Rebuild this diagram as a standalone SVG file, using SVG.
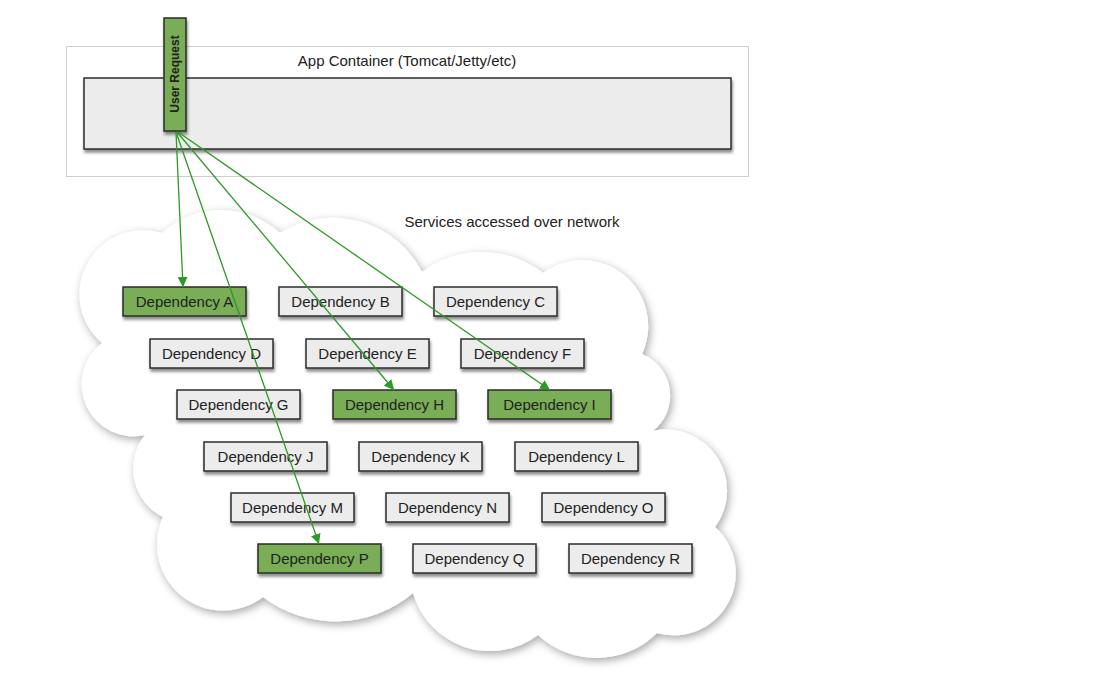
<svg xmlns="http://www.w3.org/2000/svg" width="1105" height="681" viewBox="0 0 1105 681">
<defs>
<filter id="sh" x="-20%" y="-30%" width="140%" height="170%">
<feDropShadow dx="1" dy="3" stdDeviation="1.6" flood-color="#000" flood-opacity="0.45"/>
</filter>
<filter id="csh" x="-10%" y="-10%" width="120%" height="125%">
<feDropShadow dx="2" dy="3" stdDeviation="4" flood-color="#000" flood-opacity="0.35"/>
</filter>
<marker id="ah" viewBox="0 0 10 10" refX="10" refY="5" markerWidth="10" markerHeight="10" markerUnits="userSpaceOnUse" orient="auto">
<path d="M0,0 L10,5 L0,10 z" fill="#2e9a26"/>
</marker>
<style>
.box{stroke:#2b2b2b;stroke-width:1.5;filter:url(#sh)}
.g{fill:#79ad57}
.w{fill:#ececec}
.t{font-family:"Liberation Sans",Arial,sans-serif;font-size:15px;fill:#222;text-anchor:middle;dominant-baseline:central}
.lbl{font-family:"Liberation Sans",Arial,sans-serif;font-size:15px;fill:#222;text-anchor:middle}
.c{stroke:#2e9a26;stroke-width:1.3;fill:none;marker-end:url(#ah)}
</style>
</defs>
<rect width="1105" height="681" fill="#fff"/>
<g id="app-container">
<rect x="66.5" y="46.5" width="682" height="130" fill="#fff" stroke="#cfcfcf" stroke-width="1"/>
<text class="lbl" x="407" y="66">App Container (Tomcat/Jetty/etc)</text>
<rect x="84" y="78" width="647" height="71" fill="#ececec" stroke="#2b2b2b" stroke-width="1.5" filter="url(#sh)"/>
</g>
<g id="cloud">
<path d="M162,233 A87,87 0 0 1 280,233 A100,100 0 0 1 422,272 A100,100 0 0 1 543,273 A66,66 0 0 1 642,354 A45,45 0 0 1 653,431 A61,61 0 0 1 715,527 A62,62 0 0 1 657,633 A86,86 0 0 1 538,635 A80,80 0 0 1 413,593 A120,120 0 0 1 263,597 A66,66 0 0 1 163,517 A54,54 0 0 1 145,435 A52,52 0 0 1 102,343 A64,64 0 0 1 162,233 Z" fill="#fff" filter="url(#csh)"/>
<text class="lbl" x="512" y="227">Services accessed over network</text>
</g>
<g id="user-request">
<rect class="box g" x="164" y="18" width="22" height="113"/>
<text x="175" y="74" transform="rotate(-90 175 74)" font-family="'Liberation Sans',Arial,sans-serif" font-size="12" font-weight="bold" fill="#222" text-anchor="middle" dominant-baseline="central">User Request</text>
</g>
<g id="dep-a"><rect class="box g" x="123" y="287" width="123" height="29"/><text class="t" x="184.5" y="301.5">Dependency A</text></g>
<g id="dep-b"><rect class="box w" x="279" y="287" width="123" height="29"/><text class="t" x="340.5" y="301.5">Dependency B</text></g>
<g id="dep-c"><rect class="box w" x="434" y="287" width="123" height="29"/><text class="t" x="495.5" y="301.5">Dependency C</text></g>
<g id="dep-d"><rect class="box w" x="150" y="339" width="123" height="29"/><text class="t" x="211.5" y="353.5">Dependency D</text></g>
<g id="dep-e"><rect class="box w" x="306" y="339" width="123" height="29"/><text class="t" x="367.5" y="353.5">Dependency E</text></g>
<g id="dep-f"><rect class="box w" x="461" y="339" width="123" height="29"/><text class="t" x="522.5" y="353.5">Dependency F</text></g>
<g id="dep-g"><rect class="box w" x="177" y="390" width="123" height="29"/><text class="t" x="238.5" y="404.5">Dependency G</text></g>
<g id="dep-h"><rect class="box g" x="333" y="390" width="123" height="29"/><text class="t" x="394.5" y="404.5">Dependency H</text></g>
<g id="dep-i"><rect class="box g" x="488" y="390" width="123" height="29"/><text class="t" x="549.5" y="404.5">Dependency I</text></g>
<g id="dep-j"><rect class="box w" x="204" y="442" width="123" height="29"/><text class="t" x="265.5" y="456.5">Dependency J</text></g>
<g id="dep-k"><rect class="box w" x="359" y="442" width="123" height="29"/><text class="t" x="420.5" y="456.5">Dependency K</text></g>
<g id="dep-l"><rect class="box w" x="515" y="442" width="123" height="29"/><text class="t" x="576.5" y="456.5">Dependency L</text></g>
<g id="dep-m"><rect class="box w" x="231" y="493" width="123" height="29"/><text class="t" x="292.5" y="507.5">Dependency M</text></g>
<g id="dep-n"><rect class="box w" x="386" y="493" width="123" height="29"/><text class="t" x="447.5" y="507.5">Dependency N</text></g>
<g id="dep-o"><rect class="box w" x="542" y="493" width="123" height="29"/><text class="t" x="603.5" y="507.5">Dependency O</text></g>
<g id="dep-p"><rect class="box g" x="258" y="544" width="123" height="29"/><text class="t" x="319.5" y="558.5">Dependency P</text></g>
<g id="dep-q"><rect class="box w" x="413" y="544" width="123" height="29"/><text class="t" x="474.5" y="558.5">Dependency Q</text></g>
<g id="dep-r"><rect class="box w" x="569" y="544" width="123" height="29"/><text class="t" x="630.5" y="558.5">Dependency R</text></g>
<g id="connectors">
<line class="c" x1="176" y1="132" x2="183" y2="287"/>
<line class="c" x1="176" y1="132" x2="319" y2="544"/>
<line class="c" x1="177" y1="132" x2="394" y2="390"/>
<line class="c" x1="178" y1="132" x2="550" y2="390"/>
</g>
</svg>
